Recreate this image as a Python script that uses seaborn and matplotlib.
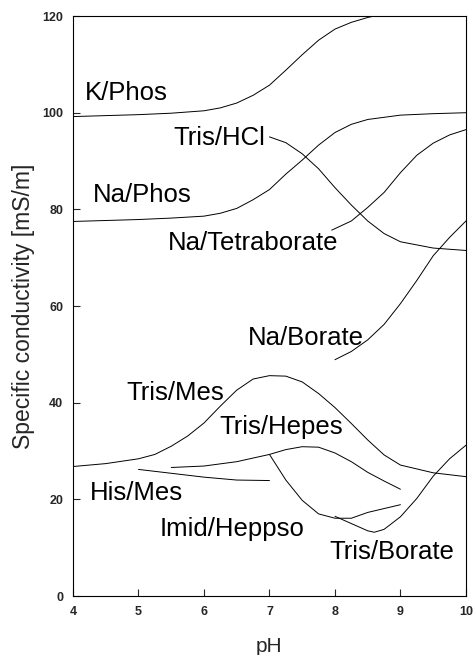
import matplotlib
matplotlib.use("Agg")
import matplotlib.pyplot as plt
import seaborn as sns
import pandas as pd

# ---- data ----
k_phos_ph = [4, 4.5, 5, 5.5, 6, 6.25, 6.5, 6.75, 7, 7.25, 7.5, 7.75, 8, 8.25, 8.5, 8.75, 9, 10]
k_phos = [99.2, 99.4, 99.6, 99.9, 100.4, 101.0, 102.0, 103.6, 105.7, 108.8, 112.0, 115.0, 117.3, 118.7, 119.7, 120.5, 121.0, 122.0]

na_phos_ph = [4, 4.5, 5, 5.5, 6, 6.25, 6.5, 6.75, 7, 7.25, 7.5, 7.75, 8, 8.25, 8.5, 9, 9.5, 10]
na_phos = [77.5, 77.7, 77.9, 78.2, 78.6, 79.2, 80.2, 82.0, 84.1, 87.3, 90.2, 93.3, 95.9, 97.6, 98.6, 99.5, 99.8, 100.0]

tris_hcl_ph = [7, 7.25, 7.5, 7.75, 8, 8.25, 8.5, 8.75, 9, 9.5, 10]
tris_hcl = [95.0, 93.8, 91.5, 88.4, 84.5, 80.9, 77.6, 75.0, 73.3, 72.0, 71.5]

na_tetra_ph = [7.95, 8.25, 8.5, 8.75, 9, 9.25, 9.5, 9.75, 10]
na_tetra = [75.7, 77.6, 80.4, 83.5, 87.6, 91.2, 93.7, 95.4, 96.5]

na_borate_ph = [8, 8.25, 8.5, 8.75, 9, 9.25, 9.5, 9.75, 10]
na_borate = [48.9, 50.6, 53.0, 56.2, 60.5, 65.3, 70.4, 74.2, 77.6]

tris_mes_ph = [4, 4.5, 5, 5.25, 5.5, 5.75, 6, 6.25, 6.5, 6.75, 7, 7.25, 7.5, 7.75, 8, 8.25, 8.5, 8.75, 9, 9.5, 10]
tris_mes = [26.8, 27.4, 28.4, 29.3, 31.0, 33.1, 35.8, 39.3, 42.6, 44.9, 45.6, 45.5, 44.3, 41.9, 39.0, 35.7, 32.3, 29.2, 27.1, 25.5, 24.7]

tris_hepes_ph = [5.5, 6, 6.5, 7, 7.25, 7.5, 7.75, 8, 8.25, 8.5, 8.75, 9]
tris_hepes = [26.6, 26.9, 27.8, 29.3, 30.3, 30.9, 30.8, 29.6, 27.8, 25.6, 23.8, 22.1]

his_mes_ph = [5, 5.5, 6, 6.5, 7]
his_mes = [26.2, 25.4, 24.6, 24.0, 23.9]

imid_heppso_ph = [7, 7.25, 7.5, 7.75, 8, 8.25, 8.5, 8.75, 9]
imid_heppso = [29.3, 24.0, 19.8, 17.0, 16.1, 16.1, 17.3, 18.1, 18.9]

tris_borate_ph = [8, 8.25, 8.5, 8.6, 8.75, 9, 9.25, 9.5, 9.75, 10]
tris_borate = [16.5, 15.0, 13.5, 13.2, 13.8, 16.4, 20.2, 24.8, 28.4, 31.2]

label_names = ["K/Phos", "Tris/HCl", "Na/Phos", "Na/Tetraborate", "Na/Borate",
               "Tris/Mes", "Tris/Hepes", "His/Mes", "Imid/Heppso", "Tris/Borate"]
label_x = [4.18, 5.53, 4.31, 5.45, 6.67, 4.82, 6.24, 4.26, 5.33, 7.92]
label_y = [104.0, 94.7, 83.0, 73.0, 53.3, 42.0, 35.0, 21.3, 13.9, 9.1]

x_ticks = [4, 5, 6, 7, 8, 9, 10]
y_ticks = [0, 20, 40, 60, 80, 100, 120]

series = {
    "K/Phos": (k_phos_ph, k_phos),
    "Na/Phos": (na_phos_ph, na_phos),
    "Tris/HCl": (tris_hcl_ph, tris_hcl),
    "Na/Tetraborate": (na_tetra_ph, na_tetra),
    "Na/Borate": (na_borate_ph, na_borate),
    "Tris/Mes": (tris_mes_ph, tris_mes),
    "Tris/Hepes": (tris_hepes_ph, tris_hepes),
    "His/Mes": (his_mes_ph, his_mes),
    "Imid/Heppso": (imid_heppso_ph, imid_heppso),
    "Tris/Borate": (tris_borate_ph, tris_borate),
}
rows = []
for name, (xs, ys) in series.items():
    for xv, yv in zip(xs, ys):
        rows.append({"buffer": name, "pH": xv, "cond": yv})
df = pd.DataFrame(rows)

sns.set_style("ticks")
plt.rcParams["font.family"] = ["Liberation Sans", "DejaVu Sans"]

fig = plt.figure(figsize=(4.74, 6.55), dpi=100)
ax = fig.add_axes([0.154, 0.090, 0.829, 0.8855])

sns.lineplot(data=df, x="pH", y="cond", units="buffer", estimator=None,
             color="black", linewidth=0.7, ax=ax, legend=False)

for name, xv, yv in zip(label_names, label_x, label_y):
    ax.text(xv, yv, name, ha="left", va="center", fontsize=18.5, color="black")

ax.set_xlim(4, 10)
ax.set_ylim(0, 120)
ax.set_xticks(x_ticks)
ax.set_yticks(y_ticks)
ax.set_xticklabels([str(t) for t in x_ticks], fontweight="bold", fontsize=9)
ax.set_yticklabels([str(t) for t in y_ticks], fontweight="bold", fontsize=9)
ax.tick_params(direction="in", length=5, width=0.8, pad=7)
ax.set_xlabel("pH", fontsize=15, labelpad=14)
ax.set_ylabel("Specific conductivity [mS/m]", fontsize=16.5, labelpad=5)
for s in ax.spines.values():
    s.set_linewidth(0.8)
    s.set_color("black")

fig.savefig("out.png", dpi=100)
